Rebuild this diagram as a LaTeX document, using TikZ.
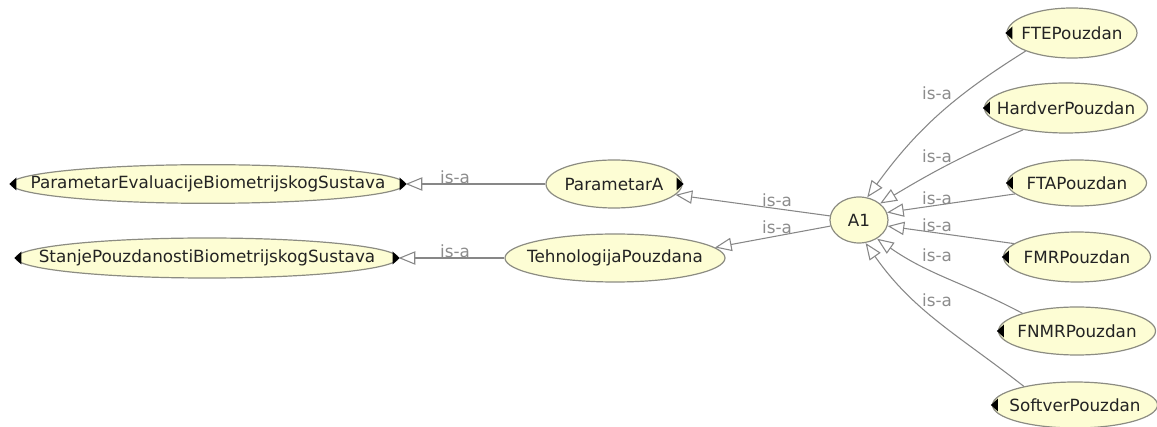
\documentclass[tikz,border=0pt]{standalone}
\usepackage{fontspec}
\setmainfont{DejaVu Sans}
\usetikzlibrary{arrows.meta,shapes.geometric}
\definecolor{nodefill}{RGB}{253,253,212}
\definecolor{edgegray}{RGB}{135,135,135}
\definecolor{labelgray}{RGB}{140,140,140}
\definecolor{bordergray}{RGB}{140,140,130}
\definecolor{textdark}{RGB}{35,35,35}
\begin{document}
\begin{tikzpicture}[x=0.75pt,y=-0.75pt,
  cls/.style={ellipse, draw=bordergray, line width=0.9pt, fill=nodefill, inner sep=0pt},
  lbl/.style={font=\fontsize{12.6}{15}\selectfont, text=textdark, inner sep=0pt},
  isa/.style={font=\fontsize{12.6}{15}\selectfont, text=labelgray, inner sep=0pt, anchor=base},
  sub/.style={draw=edgegray, line width=0.8pt, -{Triangle[open, fill=white, length=12.5pt, width=10pt]}},
  marker/.style={fill=black},
]
\useasboundingbox (0,0) rectangle (1157,427);

% nodes
\node[cls, minimum width=295.5pt, minimum height=29pt, label={[lbl]center:ParametarEvaluacijeBiometrijskogSustava}] (pe) at (208,184) {};
\node[cls, minimum width=286.5pt, minimum height=30pt, label={[lbl]center:StanjePouzdanostiBiometrijskogSustava}] (st) at (207,258) {};
\node[cls, minimum width=102pt, minimum height=36pt, label={[lbl]center:ParametarA}] (pa) at (614,184) {};
\node[cls, minimum width=165pt, minimum height=36pt, label={[lbl]center:TehnologijaPouzdana}] (th) at (615,258) {};
\node[cls, minimum width=43.5pt, minimum height=34.5pt, label={[lbl]center:A1}] (a1) at (859,220) {};
\node[cls, minimum width=97.5pt, minimum height=37.5pt, label={[lbl]center:FTEPouzdan}] (fte) at (1072,33) {};
\node[cls, minimum width=122.25pt, minimum height=37.5pt, label={[lbl]center:HardverPouzdan}] (hw) at (1066,108) {};
\node[cls, minimum width=104.25pt, minimum height=34.5pt, label={[lbl]center:FTAPouzdan}] (fta) at (1077,183) {};
\node[cls, minimum width=110.25pt, minimum height=37.5pt, label={[lbl]center:FMRPouzdan}] (fmr) at (1077,257) {};
\node[cls, minimum width=117.75pt, minimum height=36pt, label={[lbl]center:FNMRPouzdan}] (fnmr) at (1077,331) {};
\node[cls, minimum width=123.75pt, minimum height=34.5pt, label={[lbl]center:SoftverPouzdan}] (sw) at (1075,405) {};

% markers
\foreach \n in {pe,st,fte,hw,fta,fmr,fnmr,sw}
  \fill[marker] ([xshift=-0.75pt]\n.west) -- ++(7,-6.5) -- ++(0,13) -- cycle;
\foreach \n in {pe,st,pa}
  \fill[marker] ([xshift=0.75pt]\n.east) -- ++(-7,-6.5) -- ++(0,13) -- cycle;

% edges
\draw[sub] (pa.west) -- (pe.east);
\draw[sub] (th.west) -- (st.east);
\draw[sub] (a1.172) -- (pa.-10);
\draw[sub] (a1.192) -- (th.6);
\draw[sub] (fte.south west) to[out=212,in=54] (a1.70);
\draw[sub] (hw.207) to[out=203,in=31] (a1.38);
\draw[sub] (fta.190) -- (a1.15);
\draw[sub] (fmr.168) -- (a1.-12);
\draw[sub] (fnmr.162) to[out=152,in=-35] (a1.-46);
\draw[sub] (sw.160) to[out=142,in=-55] (a1.-74);

% labels
\node[isa] (l1) at (455,184) {is-a};
\node[isa] (l2) at (455,258) {is-a};
\node[isa] (l3) at (777,207) {is-a};
\node[isa] (l4) at (777,234) {is-a};
\node[isa] (l5) at (937,100) {is-a};
\node[isa] (l6) at (937,163) {is-a};
\node[isa] (l7) at (937,205) {is-a};
\node[isa] (l8) at (937,232) {is-a};
\node[isa] (l9) at (937,262) {is-a};
\node[isa] (l10) at (937,307) {is-a};
\end{tikzpicture}
\end{document}
